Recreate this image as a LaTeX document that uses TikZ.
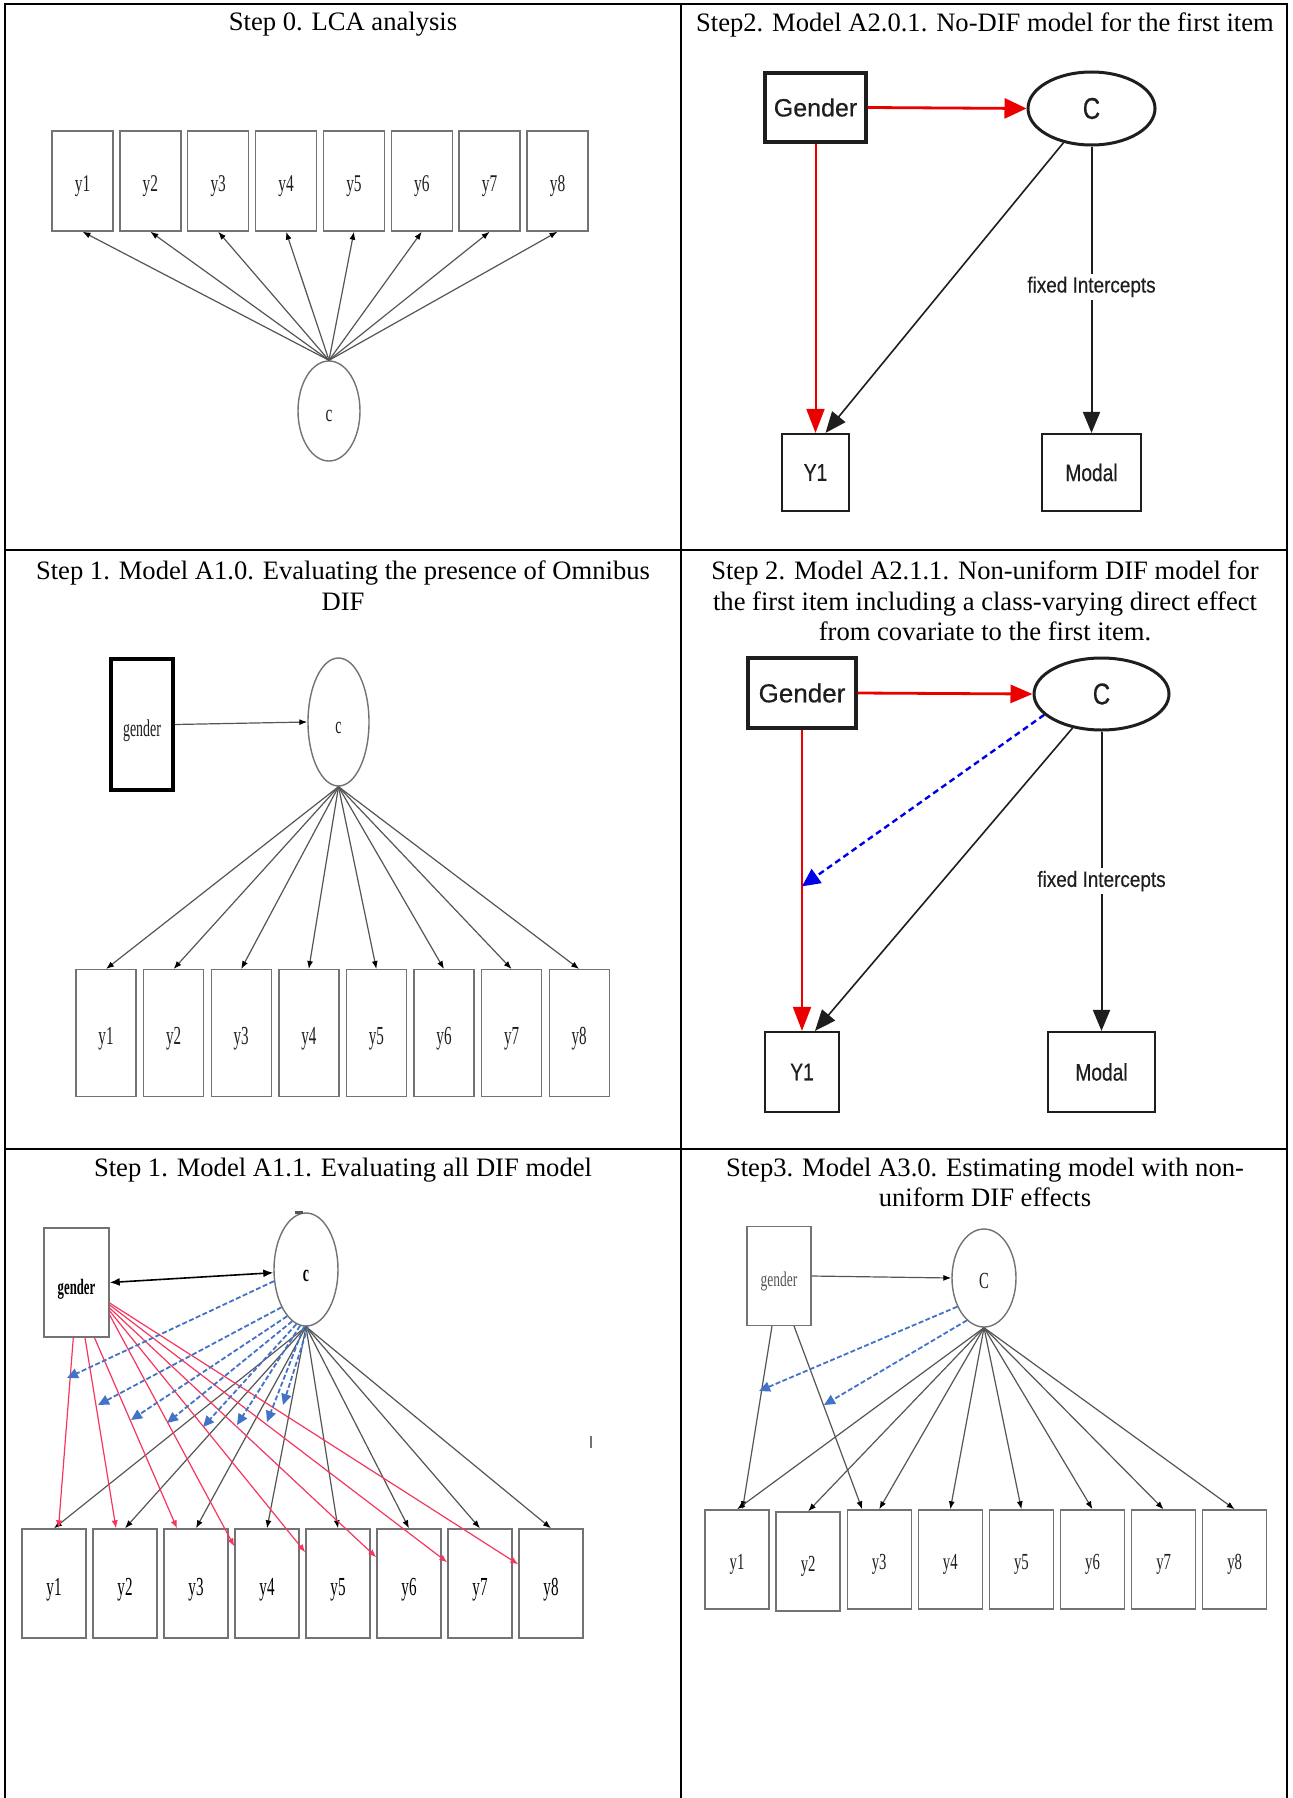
\documentclass[tikz,border=0pt]{standalone}
\usepackage{fontspec}
\setmainfont{Liberation Serif}
\newfontfamily\condA{Liberation Serif}[FakeStretch=0.64]
\newfontfamily\condB{Liberation Serif}[FakeStretch=0.58]
\newfontfamily\sansN{Liberation Sans}[FakeBold=0.5]
\newfontfamily\sansC{Liberation Sans}[FakeStretch=0.8,FakeBold=0.5]
\newfontfamily\sansL{Liberation Sans}[FakeStretch=0.86,FakeBold=0.3]
\usetikzlibrary{arrows.meta,shapes.geometric,calc}

\definecolor{boxgray}{RGB}{115,115,115}
\definecolor{linegray}{RGB}{85,85,85}
\definecolor{ink}{RGB}{30,30,30}
\definecolor{difred}{RGB}{235,0,0}
\definecolor{pinkred}{RGB}{245,55,95}
\definecolor{dblue}{RGB}{0,0,235}
\definecolor{lblue}{RGB}{68,114,196}

\begin{document}
\begin{tikzpicture}[x=0.5pt,y=-0.5pt,
  cellline/.style={line width=1.2pt, draw=black},
  ttl/.style={font=\fontsize{13.3}{15.3}\selectfont, align=center, inner sep=0pt, anchor=north},
  obs/.style={rectangle, draw=boxgray, line width=0.7pt, inner sep=0pt, text=ink},
  lat/.style={ellipse, draw=boxgray, line width=0.7pt, inner sep=0pt, text=ink},
  lowA/.style={text height=13.1pt, text depth=3pt},
  lowB/.style={text height=14.5pt, text depth=3pt},
  lnk/.style={draw=linegray, line width=0.6pt, -{Latex[length=4pt,width=3pt,color=black]}},
  sbox/.style={rectangle, draw=ink, line width=1.1pt, inner sep=0pt, text=ink, font=\sansC\fontsize{12}{12}\selectfont},
  gbox/.style={sbox, line width=1.7pt, font=\sansN\fontsize{12.5}{13}\selectfont},
  slat/.style={ellipse, draw=ink, line width=1.5pt, inner sep=0pt, text=ink, font=\sansC\fontsize{15}{15}\selectfont},
  redln/.style={draw=difred, line width=1pt, -{Triangle[length=12pt,width=9pt]}},
  blkln/.style={draw=ink, line width=0.8pt, -{Triangle[length=10.5pt,width=8.5pt]}},
  blueln/.style={draw=dblue, line width=1.2pt, dash pattern=on 3pt off 2pt, -{Triangle[length=9pt,width=8.5pt]}},
  lbl/.style={fill=white, inner sep=1.5pt, text=ink, font=\sansL\fontsize{11}{11}\selectfont},
  pinkln/.style={draw=pinkred, line width=0.6pt, -{Latex[length=4pt,width=3.2pt]}},
  lblueln/.style={draw=lblue, line width=0.9pt, dash pattern=on 2.5pt off 1.2pt, -{Triangle[length=5.5pt,width=5pt]}}
]
\fill[white] (0,0) rectangle (1293,1798);
\useasboundingbox (0,0) rectangle (1293,1798);

% table rules
\draw[cellline] (5,1798) -- (5,4) -- (1287,4) -- (1287,1798);
\draw[cellline] (681,4) -- (681,1798);
\draw[cellline] (5,550) -- (1287,550);
\draw[cellline] (5,1149) -- (1287,1149);

% headings
\node[ttl] (t1) at (343,12) {Step 0. LCA analysis};
\node[ttl] (t2) at (985,12) {Step2. Model A2.0.1. No-DIF model for the first item};
\node[ttl] (t3) at (343,560.5) {Step 1. Model A1.0. Evaluating the presence of Omnibus\\DIF};
\node[ttl] (t4) at (985,560.5) {Step 2. Model A2.1.1. Non-uniform DIF model for\\the first item including a class-varying direct effect\\from covariate to the first item.};
\node[ttl] (t5) at (343,1157.5) {Step 1. Model A1.1. Evaluating all DIF model};
\node[ttl] (t6) at (985,1157.5) {Step3. Model A3.0. Estimating model with non-\\uniform DIF effects};

% ---- Step 0: LCA
\foreach \i in {1,...,8}
  \node[obs, lowA, minimum width=30.5pt, minimum height=50pt, font=\condA\fontsize{12}{12}\selectfont] (a\i) at ({82.5+67.86*(\i-1)},181) {y\i};
\node[lat, lowA, minimum width=31pt, minimum height=50pt, font=\condA\fontsize{12}{12}\selectfont] (ac) at (329,411) {c};
\foreach \i in {1,...,8}
  \draw[lnk] (ac.north) -- (a\i.south);

% ---- Step 1: A1.0
\node[obs, lowB, draw=black, line width=1.8pt, minimum width=31pt, minimum height=65.5pt, font=\condB\fontsize{12}{12}\selectfont] (bg) at (142,724.5) {gender};
\node[lat, lowB, minimum width=30.5pt, minimum height=64pt, font=\condB\fontsize{12}{12}\selectfont] (bc) at (338.5,722) {c};
\foreach \i in {1,...,8}
  \node[obs, lowB, minimum width=30pt, minimum height=63.25pt, font=\condB\fontsize{13}{13}\selectfont] (b\i) at ({106+67.6*(\i-1)},1033) {y\i};
\draw[lnk] (bg.east) -- (bc.west);
\foreach \i in {1,...,8}
  \draw[lnk] (bc.south) -- (b\i.north);

% ---- Step 1: A1.1
\node[obs, lowB, minimum width=32.5pt, minimum height=54.5pt, font=\condB\bfseries\fontsize{11}{11}\selectfont, text=black] (eg) at (76.5,1282.5) {gender};
\node[lat, lowB, minimum width=32pt, minimum height=56.5pt, font=\condB\bfseries\fontsize{12}{12}\selectfont, text=black] (ec) at (306,1269.5) {c};
\foreach \i in {1,...,8}
  \node[obs, lowB, minimum width=32pt, minimum height=54.5pt, font=\condB\fontsize{13}{13}\selectfont, text=black] (e\i) at ({54+71*(\i-1)},1583.5) {y\i};
\draw[line width=1.5pt, linegray] (295,1212.5) -- (303,1212.5);
\draw[boxgray, line width=0.7pt] (591,1436) -- (591,1448);
\draw[draw=black, line width=0.8pt, {Latex[length=5pt,width=4pt]}-{Latex[length=5pt,width=4pt]}] (eg.east) -- ([yshift=-1.6pt]ec.west);
\foreach \i in {1,...,8}
  \draw[lnk] (ec.south) -- (e\i.north);
\draw[pinkln] ([xshift=-1.6pt]eg.south) -- ([xshift=2.25pt]e1.north);
\draw[pinkln] ([xshift=4.25pt]eg.south) -- ([xshift=-4.5pt]e2.north);
\draw[pinkln] ([xshift=9pt]eg.south) -- ([xshift=-9.5pt]e3.north);
\foreach \i/\s/\t in {4/-16.25/-9, 5/-14.25/-12, 6/-12.75/-14.5, 7/-11.25/-17, 8/-10.25/-18}
  \draw[pinkln] ([yshift=\s pt]eg.east) -- ([yshift=\t pt]e\i.north west);
\foreach \a/\px/\py [count=\k] in {200/67/1378, 237/98/1405, 248/131/1420, 255/167/1423, 260/203/1427, 264/237/1425, 268/267/1422, 272/283/1405}
  {\coordinate (eb\k) at (\px,\py);
   \draw[lblueln] (ec.\a) -- (eb\k);}

% ---- Step 2: A2.0.1
\node[gbox, minimum width=50.5pt, minimum height=34.5pt] (p2g) at (815.5,107.5) {Gender};
\node[slat, minimum width=63.5pt, minimum height=36.5pt] (p2c) at (1091.5,108.5) {C};
\node[sbox, minimum width=33.5pt, minimum height=38.5pt] (p2y) at (815.5,472.5) {Y1};
\node[sbox, minimum width=49.5pt, minimum height=38.5pt] (p2m) at (1091.5,472.5) {Modal};
\draw[redln, line width=1.4pt, -{Triangle[length=11pt,width=10pt]}] (p2g.east) -- (p2c.west);
\draw[redln] (p2g.south) -- (p2y.north);
\draw[blkln] (p2c) -- ([xshift=5pt]p2y.north);
\draw[blkln, line width=1pt] (p2c.south) -- node[lbl, pos=0.49] {fixed Intercepts} (p2m.north);

% ---- Step 2: A2.1.1
\node[gbox, minimum width=54pt, minimum height=35pt, font=\sansN\fontsize{13}{13}\selectfont] (p4g) at (802,693) {Gender};
\node[slat, minimum width=67.5pt, minimum height=36pt] (p4c) at (1101.5,694) {C};
\node[sbox, minimum width=37.25pt, minimum height=40pt] (p4y) at (802,1072) {Y1};
\node[sbox, minimum width=53.5pt, minimum height=40pt] (p4m) at (1101.5,1072) {Modal};
\coordinate (p4mid) at ($(p4g.south)!0.52!(p4y.north)$);
\draw[redln, line width=1.4pt, -{Triangle[length=11pt,width=9pt]}] (p4g.east) -- (p4c.west);
\draw[redln] (p4g.south) -- (p4y.north);
\draw[blueln] (p4c.200) -- (p4mid);
\draw[blkln] (p4c) -- ([xshift=6.5pt]p4y.north);
\draw[blkln, line width=1pt] (p4c.south) -- node[lbl, pos=0.5] {fixed Intercepts} (p4m.north);

% ---- Step 3: A3.0
\node[obs, lowA, minimum width=32pt, minimum height=49.25pt, font=\condA\fontsize{10.5}{11}\selectfont, text=linegray] (fg) at (779,1276) {gender};
\node[lat, lowA, minimum width=32pt, minimum height=49pt, font=\condA\fontsize{11.5}{12}\selectfont] (fc) at (984,1278) {C};
\foreach \i/\yy in {1/1559.5, 2/1561.5, 3/1559.5, 4/1559.5, 5/1559.5, 6/1559.5, 7/1559.5, 8/1559.5}
  \node[obs, lowA, minimum width=32pt, minimum height=49.5pt, font=\condA\fontsize{11.5}{12}\selectfont] (f\i) at ({737+71.1*(\i-1)},\yy) {y\i};
\draw[lnk] (fg.east) -- (fc.west);
\draw[lnk] ([xshift=-3.5pt]fg.south) -- ([xshift=2.75pt]f1.north);
\draw[lnk] ([xshift=7.5pt]fg.south) -- ([xshift=-8.5pt]f3.north);
\foreach \i in {1,...,8}
  \draw[lnk] (fc.south) -- (f\i.north);
\coordinate (fb1) at (759,1391);
\coordinate (fb2) at (824,1405);
\draw[lblueln] (fc.227) -- (fb1);
\draw[lblueln] (fc.248) -- (fb2);
\end{tikzpicture}
\end{document}
